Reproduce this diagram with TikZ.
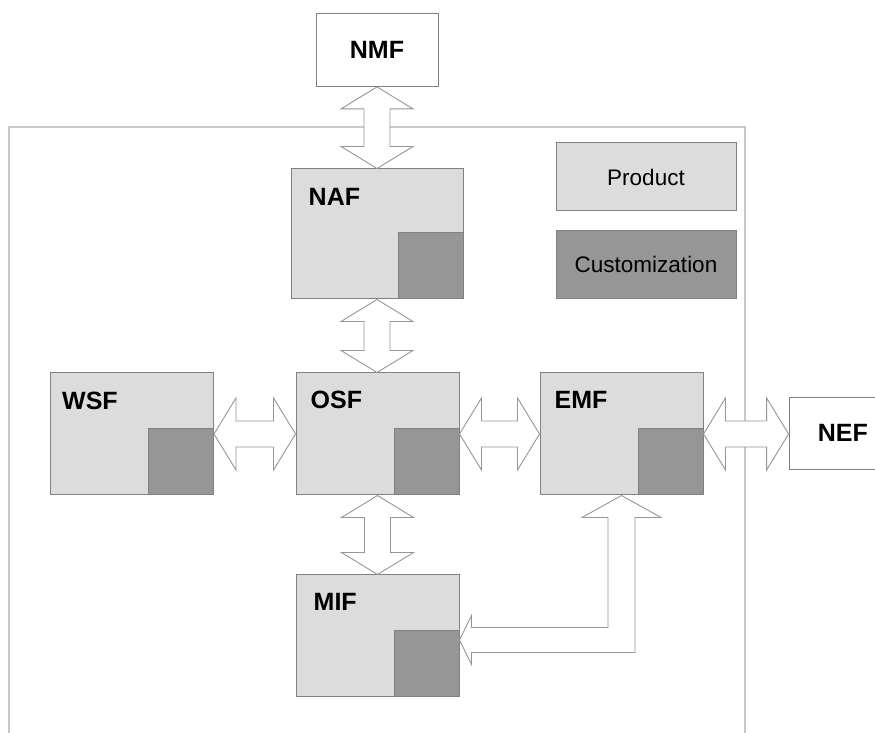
\documentclass[tikz,border=0pt]{standalone}
\usepackage{fontspec}
\setmainfont{Liberation Sans}
\usetikzlibrary{calc}

\definecolor{prodgray}{RGB}{220,220,220}
\definecolor{custgray}{RGB}{150,150,150}
\definecolor{edgegray}{RGB}{128,128,128}
\definecolor{arrowgray}{RGB}{150,150,150}
\definecolor{framegray}{RGB}{200,200,200}

% vertical double arrow between two nodes (upper, lower)
\newcommand{\vbiarrow}[2]{%
  \draw[fatarrow] let \p1=(#1.south), \p2=(#2.north) in
    (\x1,\y1) -- ++(36pt,-22pt) -- ++(-23pt,0) -- (\x1+13pt,\y2+22pt) -- ++(23pt,0)
    -- (\x1,\y2) -- ++(-36pt,22pt) -- ++(23pt,0) -- (\x1-13pt,\y1-22pt) -- ++(-23pt,0) -- cycle;}
% horizontal double arrow between two nodes (left, right)
\newcommand{\hbiarrow}[2]{%
  \draw[fatarrow] let \p1=(#1.east), \p2=(#2.west) in
    (\x1,\y1) -- ++(22pt,36pt) -- ++(0,-23pt) -- (\x2-22pt,\y1+13pt) -- ++(0,23pt)
    -- (\x2,\y1) -- ++(-22pt,-36pt) -- ++(0,23pt) -- (\x1+22pt,\y1-13pt) -- ++(0,-23pt) -- cycle;}

\begin{document}
\begin{tikzpicture}[x=1pt,y=1pt,
    box/.style={draw=edgegray,fill=prodgray,line width=1pt,minimum width=163,minimum height=122,inner sep=0},
    cust/.style={draw=edgegray,fill=custgray,line width=1pt,minimum width=65,minimum height=66,inner sep=0},
    outer/.style={draw=edgegray,fill=white,line width=0.8pt,minimum width=122,minimum height=73,inner sep=0,
      font=\fontsize{25}{29}\selectfont\bfseries},
    lbl/.style={inner sep=0,font=\fontsize{25}{29}\selectfont\bfseries},
    legend/.style={draw=edgegray,line width=1pt,minimum width=180,minimum height=68,inner sep=0,
      font=\fontsize{22.5}{26}\selectfont},
    fatarrow/.style={draw=arrowgray,fill=white,line width=0.9pt,line join=miter}]
  \clip (0,0) rectangle (875,733);
  \fill[white] (0,0) rectangle (875,733);

  % frame
  \draw[framegray,line width=1.6pt] (9,-30) rectangle (745,606);

  % legend
  \node[legend,fill=prodgray] (prod) at (646,556) {Product};
  \node[legend,fill=custgray] (custom) at (646,468.5) {Customization};

  % outer functions
  \node[outer] (nmf) at (377,683) {NMF};
  \node[outer,minimum height=72] (nef) at (850,300) {};
  \node[lbl,anchor=west] at ([xshift=29pt]nef.west) {NEF};

  % product functions
  \node[box,minimum width=172,minimum height=130] (naf) at (377,499) {};
  \node[box] (osf) at (377.5,299) {};
  \node[box] (wsf) at (132,299) {};
  \node[box] (emf) at (621.5,299) {};
  \node[box] (mif) at (377.5,97) {};

  \node[cust,anchor=south east] (nafc) at (naf.south east) {};
  \node[cust,anchor=south east] (osfc) at (osf.south east) {};
  \node[cust,anchor=south east] (wsfc) at (wsf.south east) {};
  \node[cust,anchor=south east] (emfc) at (emf.south east) {};
  \node[cust,anchor=south east] (mifc) at (mif.south east) {};

  \node[lbl,anchor=west] at ([xshift=18pt,yshift=-28pt]naf.north west) {NAF};
  \node[lbl,anchor=west] at ([xshift=15pt,yshift=-27pt]osf.north west) {OSF};
  \node[lbl,anchor=west] at ([xshift=12pt,yshift=-28pt]wsf.north west) {WSF};
  \node[lbl,anchor=west] at ([xshift=15pt,yshift=-27pt]emf.north west) {EMF};
  \node[lbl,anchor=west] at ([xshift=18pt,yshift=-27pt]mif.north west) {MIF};

  % connectors
  \vbiarrow{nmf}{naf}
  \vbiarrow{naf}{osf}
  \vbiarrow{osf}{mif}
  \hbiarrow{wsf}{osf}
  \hbiarrow{osf}{emf}
  \hbiarrow{emf}{nef}
  \draw[fatarrow] let \p1=(emf.south), \p2=([yshift=-4pt]mif.east) in
    (\x1,\y1) -- ++(39.5pt,-22pt) -- ++(-26pt,0) -- (\x1+13.5pt,\y2-12.5pt) -- (\x2+12pt,\y2-12.5pt)
    -- ++(0,-12pt) -- (\x2,\y2) -- ++(12pt,24.5pt) -- ++(0,-12pt) -- (\x1-13.5pt,\y2+12.5pt)
    -- (\x1-13.5pt,\y1-22pt) -- ++(-26pt,0) -- cycle;
\end{tikzpicture}
\end{document}
